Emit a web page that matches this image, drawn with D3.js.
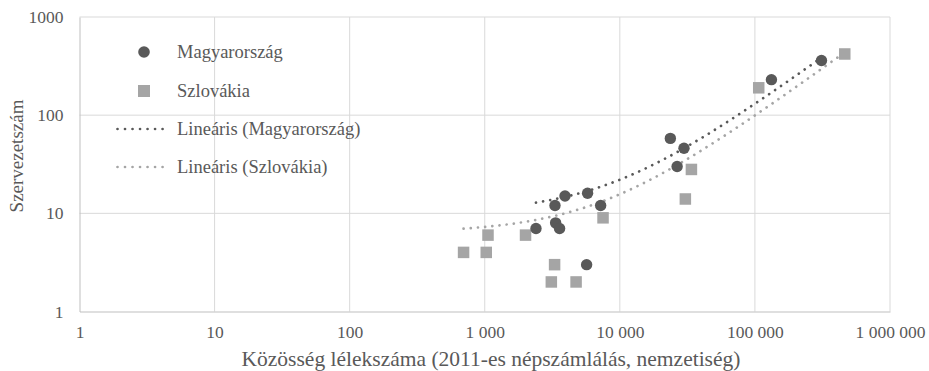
<!DOCTYPE html>
<html>
<head>
<meta charset="utf-8">
<script src="https://cdn.jsdelivr.net/npm/d3@7"></script>
<style>
  html, body { margin: 0; padding: 0; background: #fff; }
  svg { display: block; }
  text { font-family: "Liberation Serif", "Times New Roman", serif; fill: #595959; }
</style>
</head>
<body>
<svg id="chart" width="929" height="371"></svg>
<script>
// Community population (2011 census) vs. number of organisations
const huPopulation = [2395, 3311, 3926, 5770, 7210, 3347, 3580, 5677, 26550, 23660, 29850, 132500, 311000];
const huOrgs       = [7, 12, 15, 16, 12, 8, 7, 3, 30, 58, 46, 230, 360];
const skPopulation = [697, 1026, 1057, 2004, 3289, 3111, 4744, 7510, 30550, 33880, 106700, 462600];
const skOrgs       = [4, 4, 6, 6, 3, 2, 2, 9, 14, 28, 190, 420];

const xTicks = [1, 10, 100, 1000, 10000, 100000, 1000000];
const yTicks = [1, 10, 100, 1000];

const seriesNames = ["Magyarország", "Szlovákia"];
const trendNames = ["Lineáris (Magyarország)", "Lineáris (Szlovákia)"];
const xTitle = "Közösség lélekszáma (2011-es népszámlálás, nemzetiség)";
const yTitle = "Szervezetszám";

const darkColor = "#595959";
const lightColor = "#a5a5a5";

const svg = d3.select("#chart");
const margin = { left: 79.5, right: 39, top: 17, bottom: 60 };
const W = 929, H = 371;

const x = d3.scaleLog().domain([1, 1e6]).range([margin.left, W - margin.right]);
const y = d3.scaleLog().domain([1, 1000]).range([H - margin.bottom + 0.5, margin.top]);

const spaceLocale = d3.formatLocale({ decimal: ",", thousands: " ", grouping: [3], currency: ["", ""] });
const fmtX = spaceLocale.format(",d");

// gridlines
const grid = svg.append("g");
grid.selectAll(".vg").data(xTicks.slice(1)).join("line")
  .attr("x1", d => x(d)).attr("x2", d => x(d))
  .attr("y1", y(1000)).attr("y2", y(1))
  .attr("stroke", "#d9d9d9").attr("stroke-width", 1);
grid.selectAll(".hg").data(yTicks.slice(1)).join("line")
  .attr("x1", x(1)).attr("x2", x(1e6))
  .attr("y1", d => y(d)).attr("y2", d => y(d))
  .attr("stroke", "#d9d9d9").attr("stroke-width", 1);

// axes
const xAxis = d3.axisBottom(x).tickValues(xTicks).tickFormat(fmtX).tickSize(0).tickPadding(14);
const yAxis = d3.axisLeft(y).tickValues(yTicks).tickFormat(d3.format("d")).tickSize(0).tickPadding(16);

const gx = svg.append("g").attr("transform", `translate(0,${y(1)})`).call(xAxis);
const gy = svg.append("g").attr("transform", `translate(${x(1)},0)`).call(yAxis);
[gx, gy].forEach(g => {
  g.select(".domain").attr("stroke", "#bfbfbf").attr("stroke-width", 1);
  g.selectAll("text").attr("font-size", 17.5).attr("font-family", "Liberation Serif").attr("fill", "#595959");
});

// axis titles
svg.append("text")
  .attr("x", 491).attr("y", 366)
  .attr("text-anchor", "middle").attr("font-size", 21.5)
  .text(xTitle);
svg.append("text")
  .attr("transform", `translate(23,156) rotate(-90)`)
  .attr("text-anchor", "middle").attr("font-size", 19)
  .text(yTitle);

// linear least-squares trendline, drawn over the data's x range
function linearFit(xs, ys) {
  const n = xs.length;
  const mx = d3.mean(xs), my = d3.mean(ys);
  let sxy = 0, sxx = 0;
  for (let i = 0; i < n; i++) { sxy += (xs[i] - mx) * (ys[i] - my); sxx += (xs[i] - mx) ** 2; }
  const slope = sxy / sxx;
  const intercept = my - slope * mx;
  return v => slope * v + intercept;
}
function trendPath(xs, ys) {
  const f = linearFit(xs, ys);
  const [lo, hi] = d3.extent(xs);
  const steps = 120;
  const pts = d3.range(steps + 1).map(i => {
    const v = Math.pow(10, Math.log10(lo) + (Math.log10(hi) - Math.log10(lo)) * i / steps);
    return [v, f(v)];
  });
  return d3.line().x(d => x(d[0])).y(d => y(d[1]))(pts);
}

const dotDash = "0.01 7.2";
svg.append("path").attr("d", trendPath(skPopulation, skOrgs))
  .attr("fill", "none").attr("stroke", lightColor).attr("stroke-width", 2.7)
  .attr("stroke-linecap", "round").attr("stroke-dasharray", dotDash);
svg.append("path").attr("d", trendPath(huPopulation, huOrgs))
  .attr("fill", "none").attr("stroke", darkColor).attr("stroke-width", 2.7)
  .attr("stroke-linecap", "round").attr("stroke-dasharray", dotDash);

// markers
const sq = 11.5;
svg.append("g").selectAll("rect").data(d3.zip(skPopulation, skOrgs)).join("rect")
  .attr("x", d => x(d[0]) - sq / 2).attr("y", d => y(d[1]) - sq / 2)
  .attr("width", sq).attr("height", sq).attr("fill", lightColor);
svg.append("g").selectAll("circle").data(d3.zip(huPopulation, huOrgs)).join("circle")
  .attr("cx", d => x(d[0])).attr("cy", d => y(d[1])).attr("r", 5.7)
  .attr("fill", darkColor);

// legend
const legend = svg.append("g");
const legendRows = [52, 91, 129, 167];
legend.append("circle").attr("cx", 144).attr("cy", legendRows[0]).attr("r", 5.8).attr("fill", darkColor);
legend.append("rect").attr("x", 144 - 6).attr("y", legendRows[1] - 6).attr("width", 12).attr("height", 12).attr("fill", lightColor);
legend.append("line").attr("x1", 117.5).attr("x2", 170).attr("y1", legendRows[2]).attr("y2", legendRows[2])
  .attr("stroke", darkColor).attr("stroke-width", 2.7).attr("stroke-linecap", "round").attr("stroke-dasharray", "0.01 7.5");
legend.append("line").attr("x1", 117.5).attr("x2", 170).attr("y1", legendRows[3]).attr("y2", legendRows[3])
  .attr("stroke", lightColor).attr("stroke-width", 2.7).attr("stroke-linecap", "round").attr("stroke-dasharray", "0.01 7.5");
const labels = [seriesNames[0], seriesNames[1], trendNames[0], trendNames[1]];
legend.selectAll("text").data(labels).join("text")
  .attr("x", 177).attr("y", (d, i) => legendRows[i]).attr("dy", "0.35em")
  .attr("font-size", 18.5).text(d => d);
</script>
</body>
</html>
